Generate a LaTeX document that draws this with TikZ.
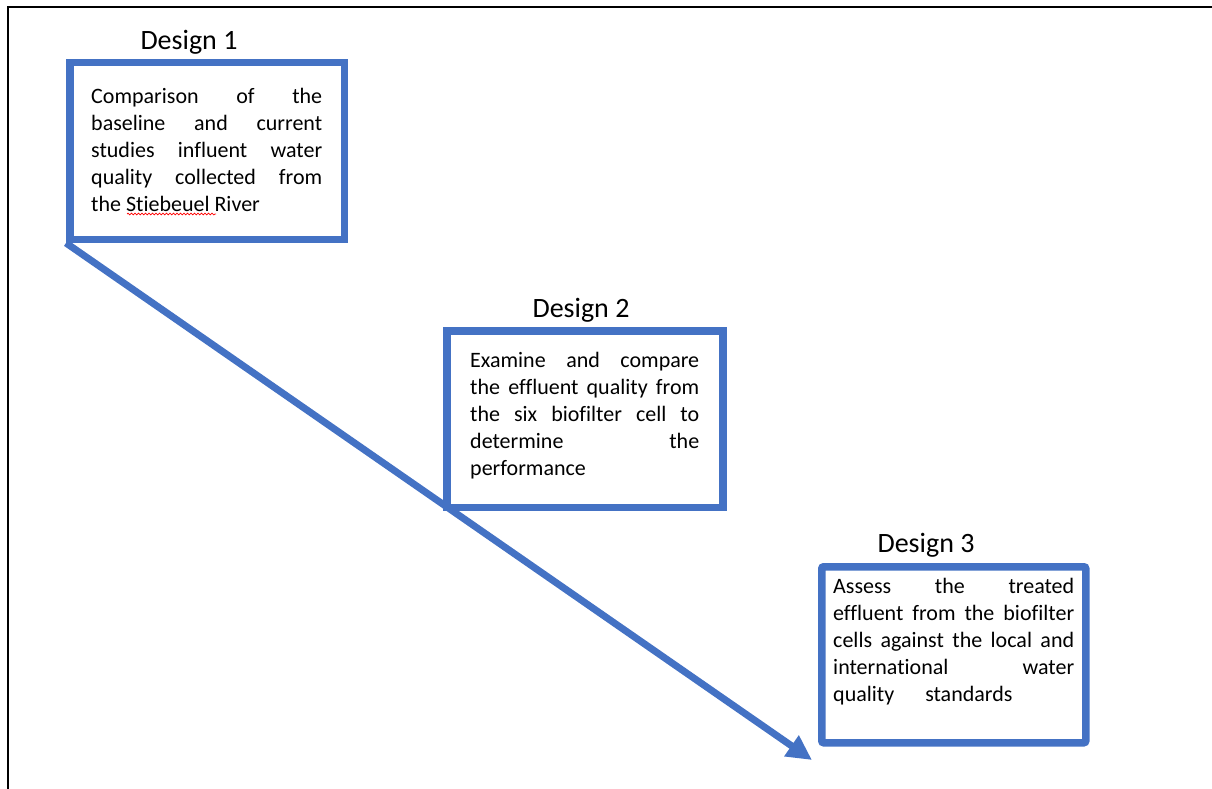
\documentclass[tikz,border=0pt]{standalone}
\usepackage{fontspec}
\setmainfont{Carlito}[Ligatures=NoCommon]
\usetikzlibrary{arrows.meta,decorations.pathmorphing}
\definecolor{officeblue}{HTML}{4472C4}
% a justified line of fixed width
\newcommand{\jl}[2]{\makebox[#1][s]{#2}}

\begin{document}
\begin{tikzpicture}[x=1pt,y=-1pt,
  stepbox/.style={draw=officeblue, line width=7.5pt, fill=white, inner sep=0pt,
    anchor=north west},
  title/.style={font=\fontsize{28}{34}\selectfont, inner sep=0pt, anchor=base},
  body/.style={font=\fontsize{22}{27}\selectfont, inner sep=0pt, anchor=base west},
  flow/.style={draw=officeblue, line width=7pt, -{Triangle[length=25pt,width=24pt]}},
  frame/.style={line width=2pt, black}]
\useasboundingbox (0,0) rectangle (1212,789);

% page frame
\draw[frame] (8,789) -- (8,7) -- (1212,7);

% the three design boxes (positions are outer corners)
\node[stepbox, minimum width=274.5pt, minimum height=176.5pt] (b1) at (66,59) {};
\node[stepbox, minimum width=276pt, minimum height=176.5pt] (b2) at (443,327) {};
\node[stepbox, minimum width=264pt, minimum height=176pt, rounded corners=2pt] (b3) at (818,563) {};

% titles
\node[title] (h1) at (189,50) {Design 1};
\node[title] (h2) at (581,317) {Design 2};
\node[title] (h3) at (926,552) {Design 3};

% box texts
\node[body] (t1) at (91,104) {\parbox[t]{231pt}{%
  \jl{231pt}{Comparison of the}\\
  \jl{231pt}{baseline and current}\\
  \jl{231pt}{studies influent water}\\
  \jl{231pt}{quality collected from}\\
  the Stiebeuel River}};
\node[body] (t2) at (470,367) {\parbox[t]{229pt}{%
  \jl{229pt}{Examine and compare}\\
  \jl{229pt}{the effluent quality from}\\
  \jl{229pt}{the six biofilter cell to}\\
  \jl{229pt}{determine the}\\
  performance}};
\node[body] (t3) at (833,593) {\parbox[t]{241pt}{%
  \jl{241pt}{Assess the treated}\\
  \jl{241pt}{effluent from the biofilter}\\
  \jl{241pt}{cells against the local and}\\
  \jl{241pt}{international water}\\
  quality\hspace{31pt}standards}};

% spelling mark under the river name
\draw[red, line width=0.7pt, decorate, decoration={snake, amplitude=0.9pt, segment length=3.5pt}]
  (127,214) -- (216,214);

% process arrow
\coordinate (tip) at (812,760);
\draw[flow] (b1.south west) -- (tip);
\end{tikzpicture}
\end{document}
